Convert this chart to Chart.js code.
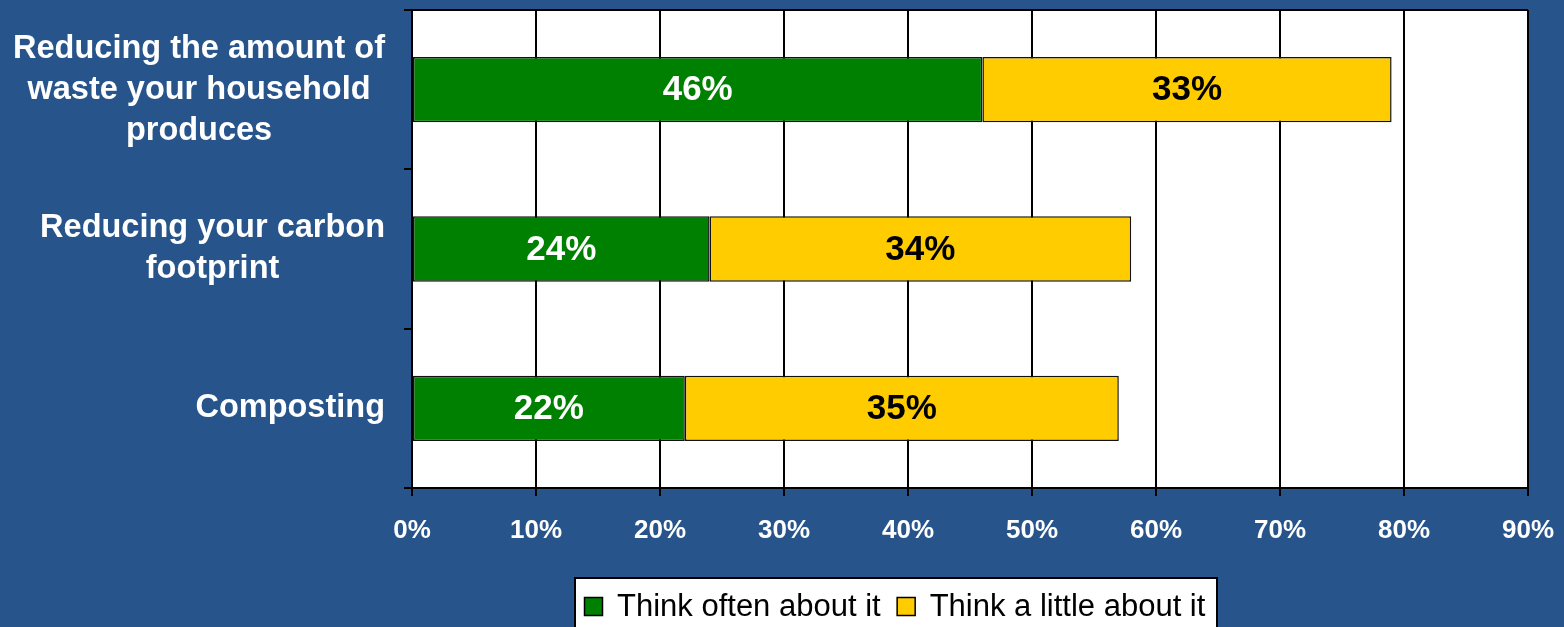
<!DOCTYPE html>
<html>
<head>
<meta charset="utf-8">
<title>Thinking about waste and carbon</title>
<script src="https://cdn.jsdelivr.net/npm/chart.js@4/dist/chart.umd.min.js"></script>
<style>
  html, body { margin: 0; padding: 0; background: #26548b; }
  #wrap { width: 1564px; height: 627px; }
</style>
</head>
<body>
<div id="wrap"><canvas id="chart" width="1564" height="627"></canvas></div>
<script>
/* ── DATA ──────────────────────────────────────────────────── */
const categories = [
  ['Reducing the amount of', 'waste your household', 'produces'],
  ['Reducing your carbon', 'footprint'],
  ['Composting']
];
const seriesNames = ['Think often about it', 'Think a little about it'];
const thinkOften  = [46, 24, 22];
const thinkLittle = [33, 34, 35];
const xTicks      = [0, 10, 20, 30, 40, 50, 60, 70, 80, 90];

const FONT = '"Liberation Sans", Arial, sans-serif';
const GREEN  = '#008000';
const YELLOW = '#ffcc00';

/* ── PLOT BACKGROUND + FRAME ───────────────────────────────── */
const plotBg = {
  id: 'plotBg',
  beforeDraw(chart) {
    const { ctx, chartArea: a } = chart;
    ctx.save();
    ctx.fillStyle = '#ffffff';
    ctx.fillRect(a.left, a.top, a.right - a.left, a.bottom - a.top);
    ctx.restore();
  },
  afterDraw(chart) {
    const { ctx, chartArea: a } = chart;
    ctx.save();
    ctx.strokeStyle = '#000';
    ctx.lineWidth = 2;
    ctx.beginPath();
    ctx.moveTo(a.left - 8, a.top);
    ctx.lineTo(a.right, a.top);
    ctx.stroke();
    ctx.restore();
  }
};

/* ── CATEGORY LABELS (right-aligned block, centered lines) ── */
const catLabels = {
  id: 'catLabels',
  afterDraw(chart) {
    const { ctx } = chart;
    const y = chart.scales.y;
    const right = 385, lh = 41;
    ctx.save();
    ctx.font = 'bold 32.5px ' + FONT;
    ctx.fillStyle = '#ffffff';
    ctx.textAlign = 'center';
    ctx.textBaseline = 'middle';
    categories.forEach((lines, i) => {
      const w = Math.max(...lines.map(l => ctx.measureText(l).width));
      const cx = right - w / 2;
      const cy = y.getPixelForValue(i);
      const y0 = cy - (lines.length - 1) * lh / 2;
      lines.forEach((l, j) => ctx.fillText(l, cx, y0 + j * lh));
    });
    ctx.restore();
  }
};

/* ── VALUE LABELS INSIDE BARS ──────────────────────────────── */
const valueLabels = {
  id: 'valueLabels',
  afterDatasetsDraw(chart) {
    const { ctx } = chart;
    ctx.save();
    ctx.font = 'bold 35px ' + FONT;
    ctx.textAlign = 'center';
    ctx.textBaseline = 'middle';
    chart.data.datasets.forEach((ds, di) => {
      chart.getDatasetMeta(di).data.forEach((bar, i) => {
        const p = bar.getProps(['x', 'y', 'base'], true);
        ctx.fillStyle = di === 0 ? '#ffffff' : '#000000';
        ctx.fillText(ds.data[i] + '%', (p.x + p.base) / 2, p.y + 1);
      });
    });
    ctx.restore();
  }
};

/* ── LEGEND (boxed, bottom) ────────────────────────────────── */
const boxLegend = {
  id: 'boxLegend',
  afterDraw(chart) {
    const { ctx } = chart;
    const left = 575, top = 578, right = 1217;
    ctx.save();
    ctx.fillStyle = '#ffffff';
    ctx.fillRect(left, top, right - left, 60);
    ctx.strokeStyle = '#000';
    ctx.lineWidth = 2;
    ctx.strokeRect(left, top, right - left, 60);
    ctx.font = '31px ' + FONT;
    ctx.textBaseline = 'alphabetic';
    let x = 584;
    chart.data.datasets.forEach(ds => {
      ctx.fillStyle = ds.backgroundColor;
      ctx.fillRect(x, 597, 19, 19);
      ctx.lineWidth = 1.5;
      ctx.strokeRect(x + 0.5, 597.5, 18, 18);
      ctx.fillStyle = '#000';
      ctx.fillText(ds.label, x + 33, 616);
      x += 33 + ctx.measureText(ds.label).width + 16;
    });
    ctx.restore();
  }
};

new Chart(document.getElementById('chart'), {
  type: 'bar',
  data: {
    labels: categories.map(c => c.join(' ')),
    datasets: [
      { label: seriesNames[0], data: thinkOften,  backgroundColor: GREEN,  borderColor: '#111', borderWidth: 1.5, borderSkipped: false },
      { label: seriesNames[1], data: thinkLittle, backgroundColor: YELLOW, borderColor: '#111', borderWidth: 1.5, borderSkipped: false }
    ]
  },
  options: {
    indexAxis: 'y',
    responsive: false,
    animation: false,
    barPercentage: 0.41,
    categoryPercentage: 1,
    layout: { padding: { top: 10, right: 36, bottom: 79, left: 0 } },
    plugins: {
      legend: { display: false },
      tooltip: { enabled: false }
    },
    scales: {
      x: {
        stacked: true,
        min: 0, max: 90,
        afterBuildTicks: s => { s.ticks = xTicks.map(v => ({ value: v })); },
        afterFit: s => { s.height = 60; s.paddingLeft = 0; s.paddingRight = 0; },
        ticks: {
          color: '#ffffff',
          padding: 19,
          font: { family: FONT, size: 26, weight: 'bold' },
          callback: v => v + '%'
        },
        grid: { color: '#000', lineWidth: 2, tickLength: 8 },
        border: { color: '#000', width: 2 }
      },
      y: {
        stacked: true,
        afterFit: s => { s.width = 412; },
        ticks: { display: false },
        grid: { offset: true, drawOnChartArea: false, color: '#000', lineWidth: 2, tickLength: 8 },
        border: { color: '#000', width: 2 }
      }
    }
  },
  plugins: [plotBg, catLabels, valueLabels, boxLegend]
});
</script>
</body>
</html>
